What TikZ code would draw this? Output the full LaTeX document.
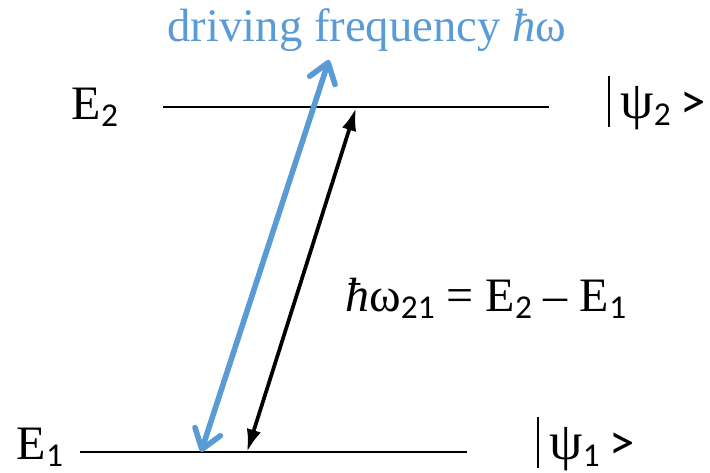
\documentclass[tikz,border=0pt]{standalone}
\usepackage{fontspec}
\setmainfont{Liberation Serif}
\newfontfamily\calfont{Carlito}
\usetikzlibrary{arrows.meta}
\definecolor{drive}{RGB}{91,155,213}
\newcommand{\lsub}[1]{\raisebox{-0.32ex}{\calfont\fontsize{25}{25}\selectfont #1}}
\newcommand{\ket}[1]{\rule[-6pt]{1.1pt}{38pt}\hspace{8pt}{\fontsize{40}{40}\selectfont ψ}\lsub{#1}\hspace{7pt}{\calfont\fontsize{38}{38}\selectfont >}}
\tikzset{
  level/.style={line width=1.8pt},
  lab/.style={inner sep=0pt,font=\fontsize{36}{36}\selectfont},
}
\begin{document}
\begin{tikzpicture}[x=0.75pt,y=-0.75pt]
\useasboundingbox (0,0) rectangle (710,473);
% energy levels
\coordinate (up1) at (163,107);
\coordinate (up2) at (549,107);
\coordinate (lo1) at (80,452);
\coordinate (lo2) at (467,452);
\draw[level] (up1) -- (up2);
\draw[level] (lo1) -- (lo2);
\node[lab] (e2) at (95,107) {E\lsub{2}};
\node[lab] (e1) at (40,447) {E\lsub{1}};
\node[lab,anchor=west] (psi2) at (608,103) {\ket{2}};
\node[lab,anchor=west] (psi1) at (537,444) {\ket{1}};
% transition
\coordinate (wtop) at (356,108);
\coordinate (wbot) at (247,452);
\draw[line width=2.8pt,{Latex[length=17pt,width=11pt]}-{Latex[length=17pt,width=11pt]}] (wbot) -- (wtop);
\node[lab,anchor=west] (eq) at (345,298) {\textit{ħ}ω\lsub{21} = E\lsub{2} – E\lsub{1}};
% driving field
\coordinate (dtop) at (329,60);
\coordinate (dbot) at (201,452);
\draw[drive,line width=4.2pt,line cap=round,{Straight Barb[length=14pt,width=20pt,round]}-{Straight Barb[length=14pt,width=20pt,round]}] (dbot) -- (dtop);
\node[lab,text=drive,font=\fontsize{35}{35}\selectfont] (drv) at (367,30) {driving frequency \textit{ħ}ω};
\end{tikzpicture}
\end{document}
